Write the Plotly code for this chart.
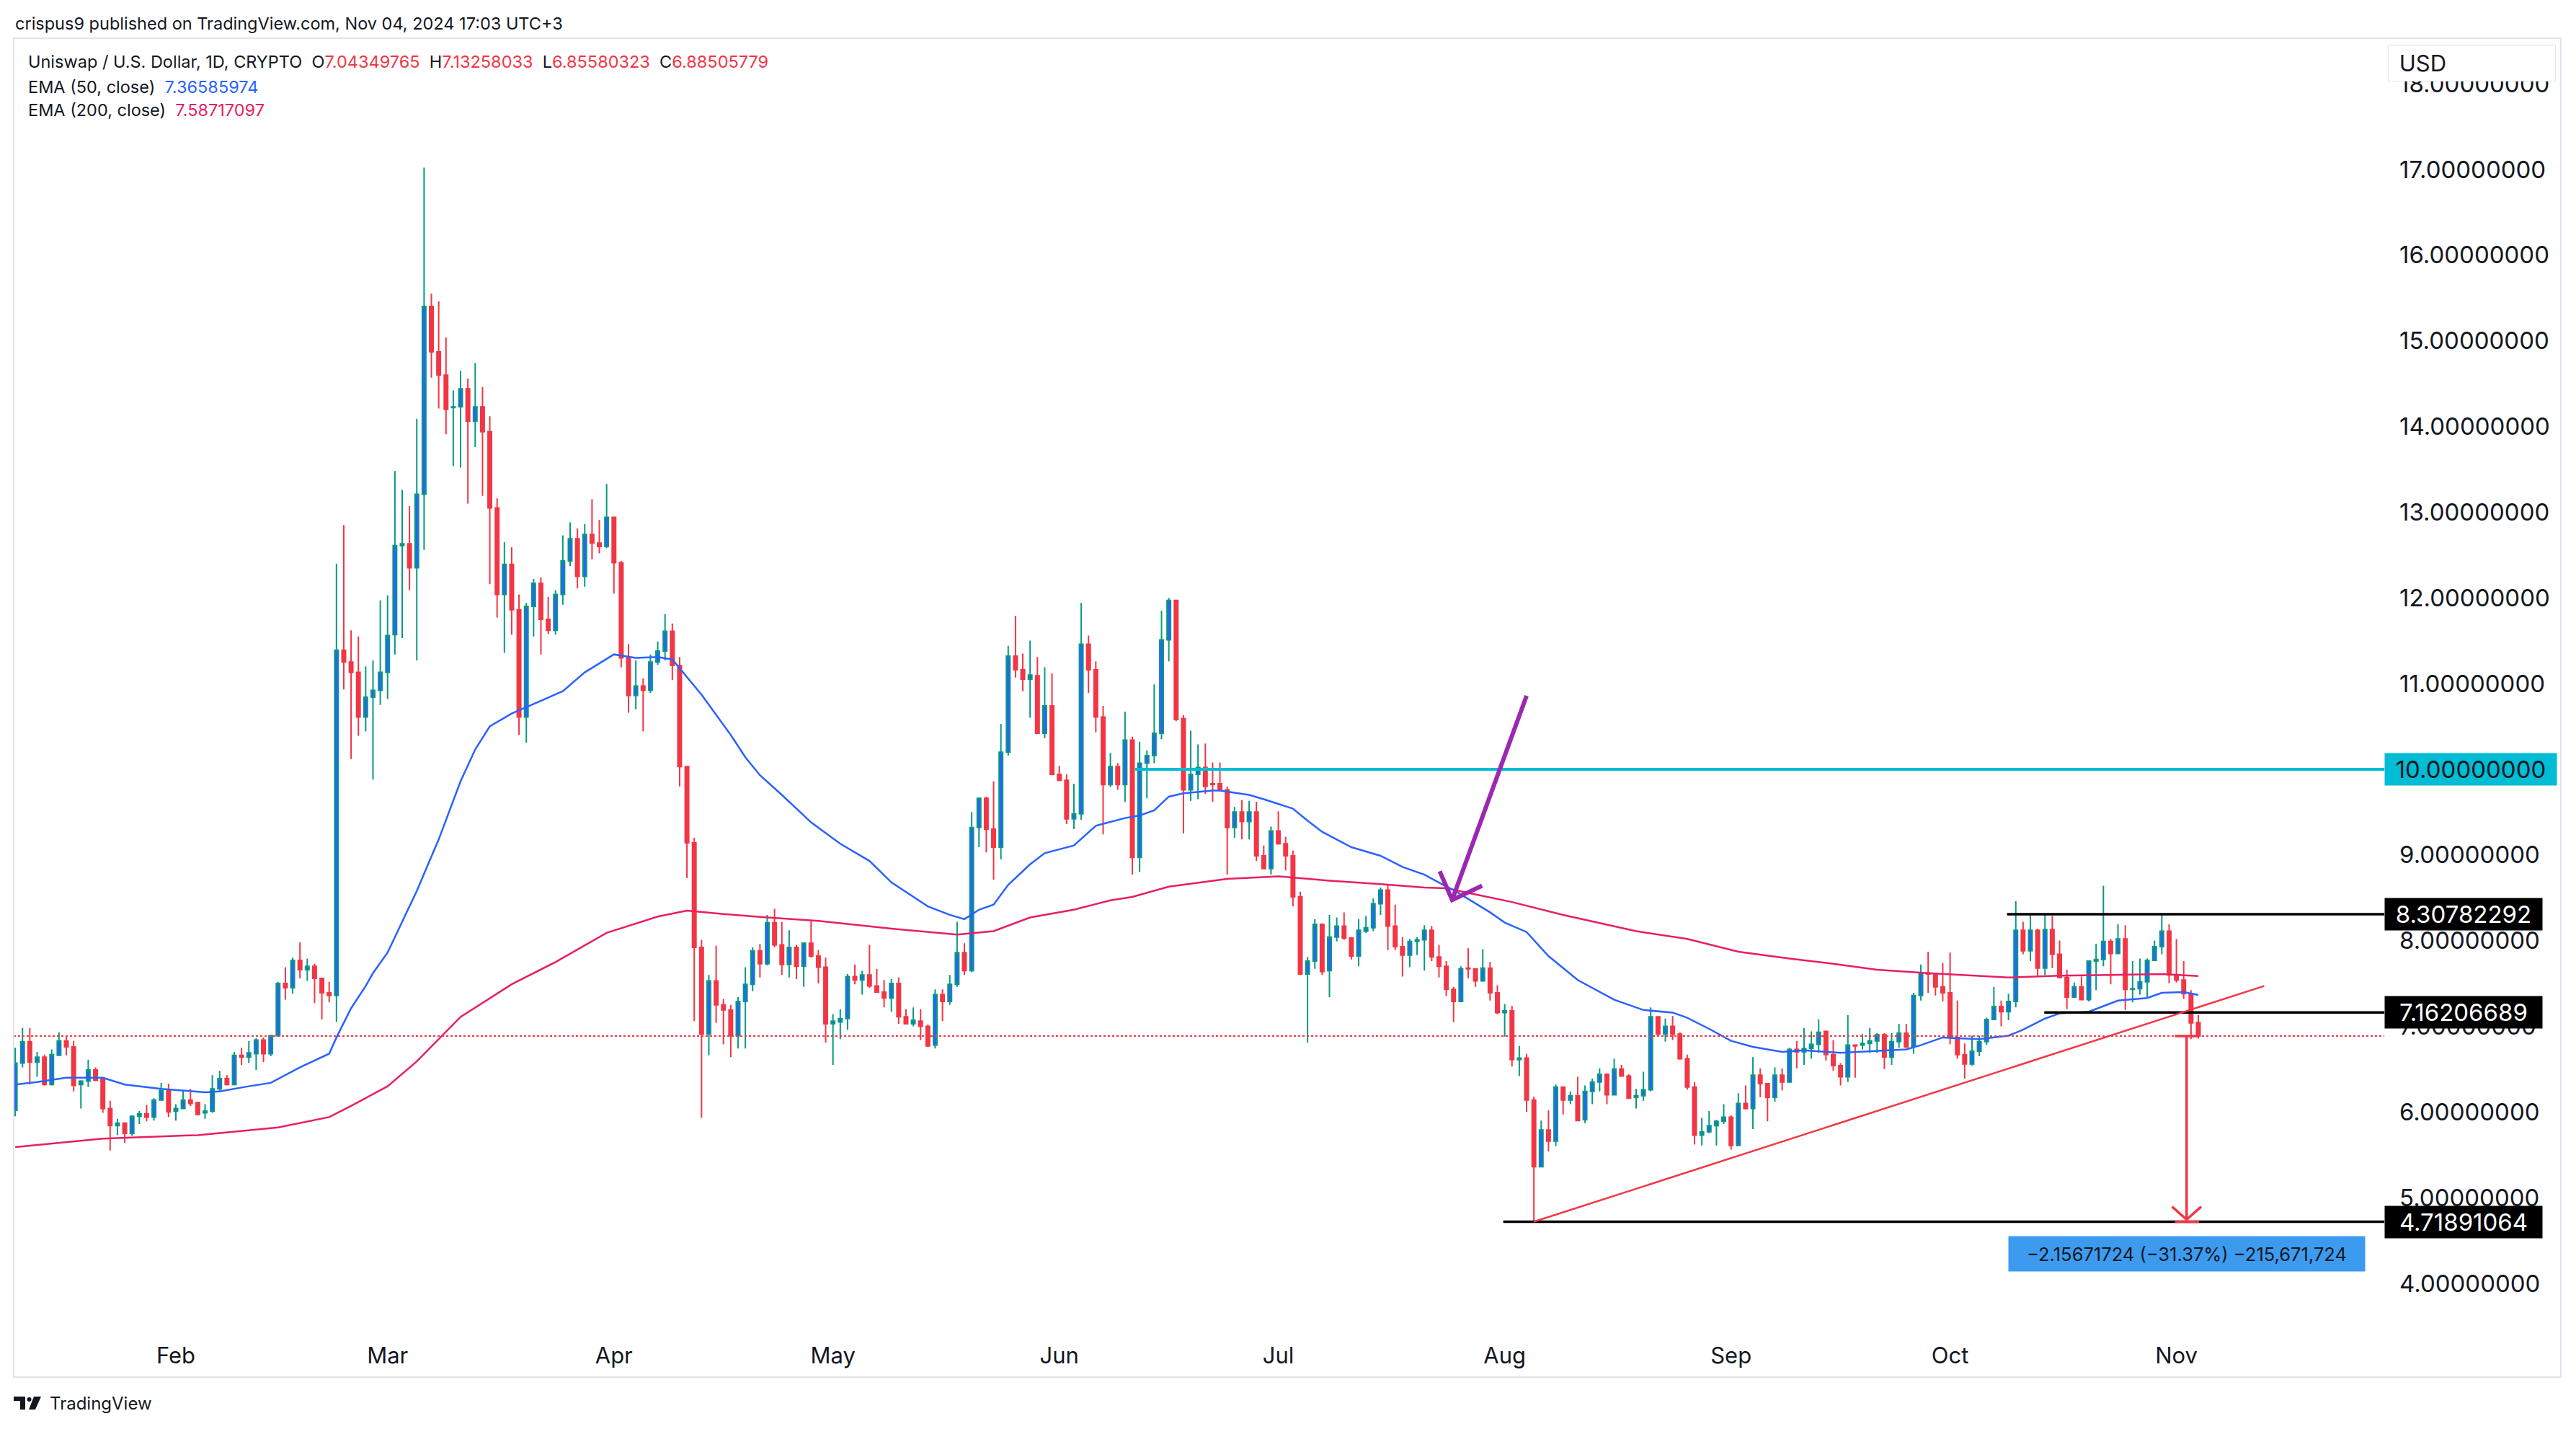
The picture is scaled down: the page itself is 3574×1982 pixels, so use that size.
import pandas as pd
import plotly.graph_objects as go

# ---------------- data ----------------
dates = pd.date_range("2024-01-10", "2024-11-04", freq="D")

open_ = [
 6.02,6.57,6.82,6.58,6.64,6.32,6.66,6.83,6.76,6.32,6.36,6.49,6.39,6.04,5.84,5.87,5.75,5.95,5.98,5.94,6.14,6.25,
 6.01,6.04,6.14,6.11,5.99,6.01,6.27,6.39,6.32,6.66,6.64,6.68,6.84,6.68,6.89,7.50,7.45,7.77,7.66,7.70,7.56,7.39,7.36,11.39,11.25,11.13,10.61,10.84,10.92,
 11.13,11.57,12.61,12.63,12.35,13.21,15.40,14.87,14.60,14.22,14.23,14.44,14.06,14.23,13.94,13.05,12.04,12.39,11.86,10.61,11.90,12.17,11.75,11.62,12.04,12.43,12.69,12.25,12.74,12.64,12.60,
 12.94,12.41,11.30,10.86,10.97,10.92,11.25,11.38,11.61,11.21,10.03,9.14,7.92,6.91,7.53,7.25,7.19,6.89,7.29,7.49,7.88,7.73,8.21,7.95,7.72,7.92,7.70,7.97,7.82,7.69,
 7.03,7.05,7.09,7.58,7.54,7.60,7.47,7.40,7.33,7.50,7.11,7.03,7.06,7.00,6.78,7.37,7.29,7.49,7.86,7.65,9.32,9.66,9.30,9.09,10.20,11.32,11.16,11.05,11.09,10.42,10.74,
 9.94,9.87,9.42,9.48,11.46,11.16,10.61,9.82,10.03,9.82,10.34,8.97,10.07,10.16,10.42,11.51,11.97,10.59,9.76,9.94,10.02,9.83,9.83,9.76,9.32,9.50,9.39,9.50,8.99,8.84,
 9.28,9.13,8.99,8.51,7.61,7.76,8.19,7.65,8.04,8.17,8.03,7.82,8.11,8.15,8.43,8.59,8.17,7.93,7.83,7.99,8.01,8.12,7.81,7.70,7.43,7.29,7.68,7.67,7.53,7.68,7.39,
 7.16,7.18,6.61,6.63,6.14,5.36,5.79,5.66,6.29,6.14,6.19,5.91,6.24,6.35,6.44,6.20,6.50,6.42,6.17,6.19,6.26,7.11,6.91,7.00,6.91,6.62,6.29,5.73,5.77,5.84,5.89,
 5.94,5.61,6.10,6.04,6.43,6.33,6.17,6.43,6.35,6.73,6.70,6.74,6.79,6.94,6.67,6.54,6.41,6.78,6.78,6.80,6.83,6.90,6.64,6.82,6.92,6.76,7.36,7.62,7.61,7.46,
 7.39,6.87,6.67,6.56,6.71,6.82,7.08,7.23,7.17,7.29,8.12,7.88,8.12,7.68,8.13,7.84,7.57,7.34,7.46,7.31,7.76,7.78,7.99,7.85,8.02,7.43,7.44,7.52,7.77,7.93,8.11,
 7.60,7.54,7.38,7.04349765]
high = [
 6.75,6.98,6.98,6.70,6.67,6.73,6.93,6.89,6.83,6.37,6.61,6.52,6.40,6.13,5.92,5.88,5.96,6.01,6.08,6.16,6.34,6.33,
 6.09,6.25,6.27,6.12,6.09,6.43,6.48,6.43,6.70,6.75,6.83,6.86,6.87,6.90,7.52,7.69,7.80,7.98,7.79,7.73,7.56,7.52,12.40,12.85,11.62,11.55,11.20,11.27,11.97,
 12.03,13.48,13.26,13.07,14.09,17.02,15.55,15.46,15.04,14.42,14.65,14.56,14.74,14.46,14.12,13.16,12.65,12.59,12.04,11.94,12.22,12.24,12.01,12.09,12.73,12.88,12.81,12.86,13.15,12.91,13.33,
 12.94,12.43,11.46,11.27,11.06,11.34,11.49,11.81,11.70,11.31,10.03,9.20,8.01,7.60,7.94,7.32,7.25,7.34,7.69,7.92,7.96,8.30,8.37,8.22,8.12,7.95,7.98,8.23,7.89,7.80,
 7.14,7.20,7.61,7.72,7.65,7.95,7.67,7.54,7.55,7.57,7.20,7.22,7.20,7.02,7.43,7.43,7.60,8.22,7.97,9.50,9.67,9.68,9.86,10.53,11.44,11.79,11.35,11.50,11.31,11.19,11.12,
 10.04,9.94,9.83,11.94,11.56,11.26,10.74,10.19,10.07,10.67,10.38,10.32,10.22,10.99,11.85,12.00,11.97,10.63,10.45,10.29,10.30,10.08,10.08,9.80,9.56,9.64,9.63,9.62,9.11,9.33,
 9.51,9.21,9.05,8.57,7.81,8.25,8.20,8.30,8.27,8.33,8.04,8.25,8.29,8.49,8.62,8.65,8.42,8.04,8.02,8.04,8.18,8.17,7.95,7.76,7.46,7.70,7.91,7.67,7.90,7.75,7.48,
 7.26,7.24,6.77,6.68,6.18,5.90,6.02,6.32,6.29,6.24,6.41,6.31,6.39,6.51,6.45,6.62,6.55,6.44,6.27,6.47,7.22,7.12,7.09,7.12,6.93,6.67,6.35,5.93,6.01,5.91,6.09,
 5.96,6.22,6.31,6.64,6.51,6.34,6.52,6.51,6.75,6.83,6.98,6.94,7.08,6.94,6.84,6.57,7.13,6.78,6.91,6.98,6.92,6.92,6.92,7.03,7.03,7.39,7.72,7.87,7.61,7.74,
 7.86,7.30,6.80,6.89,6.89,7.10,7.46,7.30,7.38,8.46,8.22,8.30,8.14,8.30,8.29,8.00,7.66,7.51,7.58,7.77,7.96,8.64,8.02,8.19,8.18,7.76,7.79,7.79,8.00,8.32,8.19,
 8.02,7.76,7.42,7.13258033]
low = [
 5.95,6.52,6.32,6.41,6.31,6.31,6.66,6.66,6.24,6.04,6.29,6.36,5.99,5.55,5.73,5.64,5.72,5.86,5.89,5.90,6.13,5.94,
 5.90,6.04,6.07,5.96,5.92,5.99,6.24,6.31,6.31,6.55,6.57,6.49,6.58,6.65,6.89,7.31,7.38,7.56,7.53,7.27,7.08,7.28,7.05,10.93,10.12,10.39,10.44,9.88,10.75,
 10.82,11.34,11.53,12.09,11.27,12.56,14.57,14.21,13.91,13.54,13.52,13.10,13.76,13.19,12.16,11.77,11.36,11.57,10.40,10.31,11.55,11.34,11.58,11.57,11.92,12.37,12.11,12.13,12.45,12.52,12.58,
 12.05,11.19,10.66,10.70,10.44,10.89,11.22,11.27,11.04,9.80,8.73,7.06,5.93,6.66,7.04,6.79,6.64,6.74,6.74,7.41,7.57,7.71,7.92,7.60,7.57,7.55,7.46,7.80,7.50,6.81,
 6.55,6.85,6.96,7.49,7.37,7.45,7.39,7.22,7.17,7.03,7.03,7.00,6.84,6.76,6.74,7.06,7.25,7.46,7.60,7.63,9.09,9.03,8.71,8.95,10.16,11.07,10.91,10.60,10.42,10.36,9.93,
 9.86,9.36,9.30,9.41,10.89,10.43,9.24,9.79,9.76,9.62,8.77,8.80,9.66,10.07,10.35,11.26,10.56,9.25,9.63,9.65,9.71,9.62,9.75,8.77,9.20,9.18,9.18,8.93,8.84,8.77,
 9.12,8.82,8.40,7.60,6.81,7.67,7.60,7.34,7.99,8.01,7.78,7.70,8.09,8.11,8.30,7.89,7.89,7.58,7.69,7.83,7.65,7.76,7.57,7.35,7.05,7.28,7.56,7.46,7.52,7.30,7.14,
 6.88,6.53,6.42,6.00,4.71891064,5.36,5.54,5.60,5.97,6.09,5.89,5.87,6.09,6.24,6.09,6.20,6.42,6.16,6.04,6.13,6.24,6.89,6.82,6.84,6.61,6.26,5.62,5.61,5.75,5.61,5.86,
 5.56,5.61,6.03,5.80,6.17,5.89,6.12,6.25,6.35,6.51,6.55,6.62,6.69,6.60,6.48,6.31,6.35,6.40,6.73,6.69,6.69,6.50,6.55,6.75,6.75,6.68,7.30,7.39,7.36,7.29,
 6.79,6.62,6.39,6.54,6.65,6.78,7.07,7.00,7.07,7.22,7.84,7.76,7.58,7.60,7.68,7.56,7.20,7.34,7.31,7.29,7.42,7.70,7.49,7.84,7.19,7.28,7.37,7.34,7.76,7.84,7.50,
 7.51,7.32,6.85,6.85580323]
close = [
 6.57,6.82,6.58,6.64,6.32,6.67,6.83,6.76,6.31,6.36,6.49,6.37,6.04,5.84,5.87,5.75,5.95,5.98,5.94,6.14,6.25,6.00,
 6.04,6.14,6.10,5.97,6.01,6.27,6.39,6.32,6.66,6.64,6.69,6.84,6.68,6.89,7.50,7.45,7.77,7.66,7.70,7.56,7.39,7.36,11.39,11.25,11.13,10.61,10.84,10.92,11.13,
 11.56,12.61,12.63,12.35,13.21,15.40,14.87,14.60,14.20,14.23,14.44,14.06,14.23,13.94,13.05,12.04,12.39,11.86,10.61,11.90,12.17,11.75,11.62,12.04,12.43,12.69,12.25,12.74,12.64,12.60,12.94,
 12.41,11.30,10.86,10.97,10.92,11.25,11.38,11.61,11.21,10.03,9.14,7.92,6.91,7.53,7.25,7.19,6.89,7.29,7.49,7.88,7.73,8.21,7.95,7.72,7.92,7.70,7.97,7.82,7.69,7.03,
 7.06,7.09,7.58,7.54,7.60,7.47,7.40,7.33,7.50,7.11,7.03,7.07,7.00,6.77,7.37,7.29,7.49,7.86,7.65,9.32,9.66,9.30,9.09,10.20,11.32,11.16,11.05,11.10,10.42,10.74,9.94,
 9.87,9.42,9.48,11.46,11.16,10.61,9.82,10.03,9.82,10.34,8.97,10.07,10.16,10.42,11.51,11.97,10.58,9.76,9.94,10.02,9.80,9.82,9.76,9.32,9.50,9.39,9.50,8.99,8.84,9.28,
 9.13,8.99,8.51,7.61,7.76,8.19,7.64,8.04,8.17,8.03,7.82,8.12,8.15,8.43,8.59,8.17,7.93,7.83,7.99,8.01,8.12,7.81,7.70,7.43,7.29,7.67,7.67,7.53,7.68,7.39,7.16,
 7.18,6.61,6.63,6.14,5.36,5.79,5.66,6.29,6.14,6.19,5.90,6.24,6.35,6.44,6.20,6.50,6.42,6.16,6.19,6.26,7.11,6.91,7.00,6.91,6.62,6.29,5.73,5.77,5.84,5.89,5.94,
 5.61,6.10,6.04,6.43,6.33,6.17,6.43,6.35,6.73,6.70,6.74,6.79,6.93,6.67,6.54,6.41,6.78,6.77,6.80,6.83,6.90,6.64,6.82,6.92,6.76,7.36,7.62,7.61,7.46,7.39,
 6.87,6.67,6.56,6.71,6.82,7.08,7.23,7.17,7.29,8.12,7.88,8.12,7.68,8.13,7.84,7.57,7.34,7.46,7.31,7.76,7.78,7.99,7.85,8.02,7.43,7.44,7.52,7.77,7.93,8.11,7.60,
 7.54,7.38,7.04,6.88505779]

ema50_dates = ["2024-01-10","2024-01-13","2024-01-17","2024-01-22","2024-01-25","2024-01-30","2024-02-05","2024-02-07",
 "2024-02-11","2024-02-14","2024-02-18","2024-02-22","2024-02-23","2024-02-25","2024-02-27","2024-02-28","2024-03-01",
 "2024-03-05","2024-03-08","2024-03-11","2024-03-13","2024-03-15","2024-03-18","2024-03-21","2024-03-25","2024-03-28",
 "2024-04-01","2024-04-04","2024-04-07","2024-04-09","2024-04-13","2024-04-17","2024-04-19","2024-04-21","2024-04-24",
 "2024-04-28","2024-05-02","2024-05-06","2024-05-09","2024-05-14","2024-05-17","2024-05-19","2024-05-21","2024-05-23",
 "2024-05-25","2024-05-28","2024-05-30","2024-06-03","2024-06-06","2024-06-10","2024-06-12","2024-06-14","2024-06-16",
 "2024-06-18","2024-06-22","2024-06-23","2024-06-27","2024-06-29","2024-07-03","2024-07-05","2024-07-07","2024-07-11",
 "2024-07-15","2024-07-18","2024-07-21","2024-07-24","2024-07-25","2024-07-30","2024-08-01","2024-08-04","2024-08-07",
 "2024-08-11","2024-08-16","2024-08-20","2024-08-24","2024-08-26","2024-08-29","2024-09-01","2024-09-04","2024-09-08",
 "2024-09-11","2024-09-16","2024-09-21","2024-09-25","2024-09-27","2024-09-30","2024-10-02","2024-10-05","2024-10-09",
 "2024-10-11","2024-10-14","2024-10-16","2024-10-20","2024-10-24","2024-10-28","2024-10-30","2024-11-02","2024-11-04"]
ema50_values = [6.32,6.35,6.40,6.40,6.32,6.27,6.23,6.24,6.30,6.34,6.52,6.68,6.87,7.21,7.47,7.62,7.86,
 8.58,9.18,9.86,10.23,10.50,10.65,10.76,10.91,11.13,11.34,11.30,11.31,11.28,10.87,10.40,10.14,9.93,9.70,
 9.38,9.13,8.93,8.68,8.40,8.30,8.25,8.36,8.42,8.65,8.89,9.02,9.11,9.34,9.43,9.46,9.52,9.68,
 9.72,9.75,9.75,9.70,9.65,9.54,9.40,9.27,9.09,8.99,8.86,8.77,8.63,8.59,8.33,8.21,8.10,7.82,
 7.54,7.31,7.19,7.16,7.10,6.97,6.83,6.76,6.70,6.72,6.69,6.71,6.73,6.78,6.87,6.86,6.85,6.89,
 6.96,7.09,7.15,7.17,7.30,7.33,7.39,7.40,7.36585974]

ema200_dates = ["2024-01-10","2024-01-22","2024-02-04","2024-02-15","2024-02-22","2024-02-25","2024-03-01","2024-03-05",
 "2024-03-11","2024-03-18","2024-03-24","2024-03-31","2024-04-07","2024-04-11","2024-04-16","2024-04-22","2024-04-29",
 "2024-05-09","2024-05-18","2024-05-23","2024-05-28","2024-06-03","2024-06-08","2024-06-11","2024-06-16","2024-06-24",
 "2024-07-01","2024-07-08","2024-07-15","2024-07-21","2024-07-24","2024-08-02","2024-08-09","2024-08-19","2024-08-26",
 "2024-09-02","2024-09-09","2024-09-15","2024-09-21","2024-09-28","2024-10-09","2024-10-16","2024-10-23","2024-10-30","2024-11-04"]
ema200_values = [5.59,5.69,5.73,5.82,5.94,6.07,6.30,6.59,7.11,7.49,7.75,8.09,8.28,8.35,8.31,8.27,8.23,
 8.14,8.07,8.11,8.27,8.36,8.47,8.51,8.63,8.72,8.75,8.70,8.66,8.62,8.61,8.45,8.30,8.11,8.02,
 7.87,7.79,7.73,7.66,7.62,7.57,7.59,7.60,7.61,7.58717097]

month_ticks = ["2024-02-01","2024-03-01","2024-04-01","2024-05-01","2024-06-01","2024-07-01",
               "2024-08-01","2024-09-01","2024-10-01","2024-11-01"]
month_labels = ["Feb","Mar","Apr","May","Jun","Jul","Aug","Sep","Oct","Nov"]
price_ticks = list(range(4, 19))

last_close = 6.88505779
level_resistance = 8.30782292
level_support = 7.16206689
level_target = 4.71891064
level_round = 10.0
measure_text = "\u22122.15671724 (\u221231.37%) \u2212215,671,724"

# ---------------- geometry ----------------
FIG_W, FIG_H = 3574, 1982
L, R, T, B = 19, 3308, 53, 1845
PW, PH = R - L, B - T
X_RANGE = ["2024-01-09 19:00", "2024-11-29 11:17"]
Y_RANGE = [3.453, 18.531]

def px(xp):
    return (xp - L) / PW

def py(yp):
    return (B - yp) / PH

def day(d):
    return (pd.Timestamp("2024-02-01") + pd.Timedelta(days=d)).strftime("%Y-%m-%d %H:%M:%S")

def pday(d):
    # date form usable inside SVG-like shape paths (no spaces)
    return (pd.Timestamp("2024-02-01") + pd.Timedelta(days=d)).strftime("%Y-%m-%d_%H:%M:%S")

FONT = "Inter, Roboto, Arial, sans-serif"
TXT = "#131722"
RED = "#F23645"
TEAL = "#089981"
BLUE = "#2962FF"
PINK = "#E91E63"

fig = go.Figure()

fig.add_trace(go.Candlestick(
    x=dates, open=open_, high=high, low=low, close=close,
    increasing=dict(line=dict(color=TEAL, width=2), fillcolor=BLUE),
    decreasing=dict(line=dict(color=RED, width=2), fillcolor=RED),
    whiskerwidth=0, showlegend=False, hoverinfo="skip"))

fig.add_trace(go.Scatter(x=ema200_dates, y=ema200_values, mode="lines",
                         line=dict(color=PINK, width=2.5), showlegend=False, hoverinfo="skip"))
fig.add_trace(go.Scatter(x=ema50_dates, y=ema50_values, mode="lines",
                         line=dict(color=BLUE, width=2.5), showlegend=False, hoverinfo="skip"))

shapes = []
# current price dotted line
shapes.append(dict(type="line", xref="x", yref="y", x0=X_RANGE[0], x1=X_RANGE[1],
                   y0=last_close, y1=last_close, line=dict(color=RED, width=2, dash="dot"), layer="above"))
# horizontal levels
shapes.append(dict(type="line", xref="x", yref="y", x0=day(131.4), x1=X_RANGE[1],
                   y0=level_round, y1=level_round, line=dict(color="#00BCD4", width=4), layer="above"))
shapes.append(dict(type="line", xref="x", yref="y", x0=day(250.8), x1=X_RANGE[1],
                   y0=level_resistance, y1=level_resistance, line=dict(color="#000000", width=3.5), layer="above"))
shapes.append(dict(type="line", xref="x", yref="y", x0=day(255.9), x1=X_RANGE[1],
                   y0=level_support, y1=level_support, line=dict(color="#000000", width=3.5), layer="above"))
shapes.append(dict(type="line", xref="x", yref="y", x0=day(181.8), x1=X_RANGE[1],
                   y0=level_target, y1=level_target, line=dict(color="#000000", width=3.5), layer="above"))
# rising trendline
shapes.append(dict(type="line", xref="x", yref="y", x0=day(186), y0=level_target, x1=day(286), y1=7.47,
                   line=dict(color=RED, width=2.5), layer="above"))
# measure tool
shapes.append(dict(type="line", xref="x", yref="y", x0=day(275.4), x1=day(275.4), y0=last_close, y1=level_target,
                   line=dict(color=RED, width=3.5), layer="above"))
shapes.append(dict(type="line", xref="x", yref="y", x0=day(273.8), x1=day(277.1), y0=last_close, y1=last_close,
                   line=dict(color=RED, width=3.5), layer="above"))
shapes.append(dict(type="line", xref="x", yref="y", x0=day(273.8), x1=day(277.1), y0=level_target, y1=level_target,
                   line=dict(color=RED, width=3.5), layer="above"))
shapes.append(dict(type="path", xref="x", yref="y",
                   path=f"M{pday(273.4)},4.895 L{pday(275.4)},4.745 L{pday(277.4)},4.895",
                   line=dict(color=RED, width=3.5), layer="above"))
# purple arrow
PURPLE = "#9C27B0"
shapes.append(dict(type="line", xref="x", yref="y", x0=day(185.0), y0=10.857, x1=day(174.8), y1=8.474,
                   line=dict(color=PURPLE, width=6), layer="above"))
shapes.append(dict(type="path", xref="x", yref="y",
                   path=f"M{pday(173.1)},8.81 L{pday(174.8)},8.474 L{pday(178.9)},8.64",
                   line=dict(color=PURPLE, width=6), layer="above"))
# chart frame
shapes.append(dict(type="rect", xref="paper", yref="paper", x0=px(19), x1=px(3553), y0=py(1910), y1=py(53),
                   line=dict(color="#E0E3EB", width=2), fillcolor="rgba(0,0,0,0)", layer="above"))
# TradingView logo (bottom-left)
shapes.append(dict(type="path", xref="paper", yref="paper",
                   path=(f"M {px(19)},{py(1937)} L {px(35)},{py(1937)} L {px(35)},{py(1955)} L {px(28)},{py(1955)} "
                         f"L {px(28)},{py(1943)} L {px(19)},{py(1943)} Z"),
                   fillcolor="#131722", line=dict(width=0), layer="above"))
shapes.append(dict(type="circle", xref="paper", yref="paper", x0=px(37.5), x1=px(43.5), y0=py(1944), y1=py(1938),
                   fillcolor="#131722", line=dict(width=0), layer="above"))
shapes.append(dict(type="path", xref="paper", yref="paper",
                   path=(f"M {px(47)},{py(1937)} L {px(57)},{py(1937)} L {px(49)},{py(1955)} L {px(40)},{py(1955)} Z"),
                   fillcolor="#131722", line=dict(width=0), layer="above"))

annotations = []
# header & legend
annotations.append(dict(xref="paper", yref="paper", x=px(19), y=py(32), xanchor="left", yanchor="middle",
                        text="crispus9 published on TradingView.com, Nov 04, 2024 17:03 UTC+3",
                        showarrow=False, font=dict(family=FONT, size=23.5, color=TXT)))
r = lambda s: f"<span style='color:{RED}'>{s}</span>"
sp = "\u00a0\u00a0"
annotations.append(dict(xref="paper", yref="paper", x=px(37), y=py(85), xanchor="left", yanchor="middle",
                        text=("Uniswap / U.S. Dollar, 1D, CRYPTO" + sp + "O" + r("7.04349765") + sp + "H" + r("7.13258033")
                              + sp + "L" + r("6.85580323") + sp + "C" + r("6.88505779")),
                        showarrow=False, font=dict(family=FONT, size=23.5, color=TXT)))
annotations.append(dict(xref="paper", yref="paper", x=px(37), y=py(120), xanchor="left", yanchor="middle",
                        text="EMA (50, close)" + sp + f"<span style='color:{BLUE}'>7.36585974</span>",
                        showarrow=False, font=dict(family=FONT, size=23.5, color=TXT)))
annotations.append(dict(xref="paper", yref="paper", x=px(37), y=py(153), xanchor="left", yanchor="middle",
                        text="EMA (200, close)" + sp + f"<span style='color:{PINK}'>7.58717097</span>",
                        showarrow=False, font=dict(family=FONT, size=23.5, color=TXT)))
# USD box
annotations.append(dict(xref="paper", yref="paper", x=px(3313), y=py(87.5), xanchor="left", yanchor="middle",
                        text="\u00a0USD", align="left", width=219, height=37, borderpad=6,
                        bgcolor="#FFFFFF", bordercolor="#E0E3EB", borderwidth=1,
                        showarrow=False, font=dict(family=FONT, size=31, color=TXT)))
# price labels on the axis
def price_label(val, text, bg, fg, w):
    return dict(xref="paper", yref="y", x=1.0, y=val, xanchor="left", yanchor="middle",
                text=text, align="center", width=w, height=44, borderpad=0,
                bgcolor=bg, showarrow=False, font=dict(family=FONT, size=33, color=fg))
annotations.append(price_label(level_round, "10.00000000", "#00BCD4", TXT, 238))
annotations.append(price_label(level_resistance, "8.30782292", "#000000", "#FFFFFF", 218))
annotations.append(price_label(level_support, "7.16206689", "#000000", "#FFFFFF", 218))
annotations.append(price_label(level_target, "4.71891064", "#000000", "#FFFFFF", 218))
# measure label
annotations.append(dict(xref="x", yref="y", x=day(275.4), y=4.347, xanchor="center", yanchor="middle",
                        text=measure_text, width=494, height=48, borderpad=0, bgcolor="#3D9BEF",
                        showarrow=False, font=dict(family=FONT, size=25.5, color=TXT)))
# TradingView wordmark
annotations.append(dict(xref="paper", yref="paper", x=px(67), y=py(1946), xanchor="left", yanchor="middle",
                        text="TradingView", showarrow=False, font=dict(family=FONT, size=24, color=TXT)))

fig.update_layout(
    width=FIG_W, height=FIG_H,
    margin=dict(l=L, r=FIG_W - R, t=T, b=FIG_H - B, pad=0),
    paper_bgcolor="#FFFFFF", plot_bgcolor="#FFFFFF",
    showlegend=False, boxgap=0.3,
    shapes=shapes, annotations=annotations,
    xaxis=dict(type="date", range=X_RANGE, rangeslider=dict(visible=False),
               tickvals=month_ticks, ticktext=month_labels, showgrid=False, zeroline=False,
               showline=False, ticks="", ticklabelstandoff=14,
               tickfont=dict(family=FONT, size=31, color=TXT)),
    yaxis=dict(side="right", range=Y_RANGE, tickvals=price_ticks,
               ticktext=[f"{v:.8f}" for v in price_ticks], showgrid=False, zeroline=False,
               showline=False, ticks="", ticklabelstandoff=20,
               tickfont=dict(family=FONT, size=33, color=TXT)),
    hovermode=False,
)

fig.write_html("out.html", config={"displayModeBar": False})
